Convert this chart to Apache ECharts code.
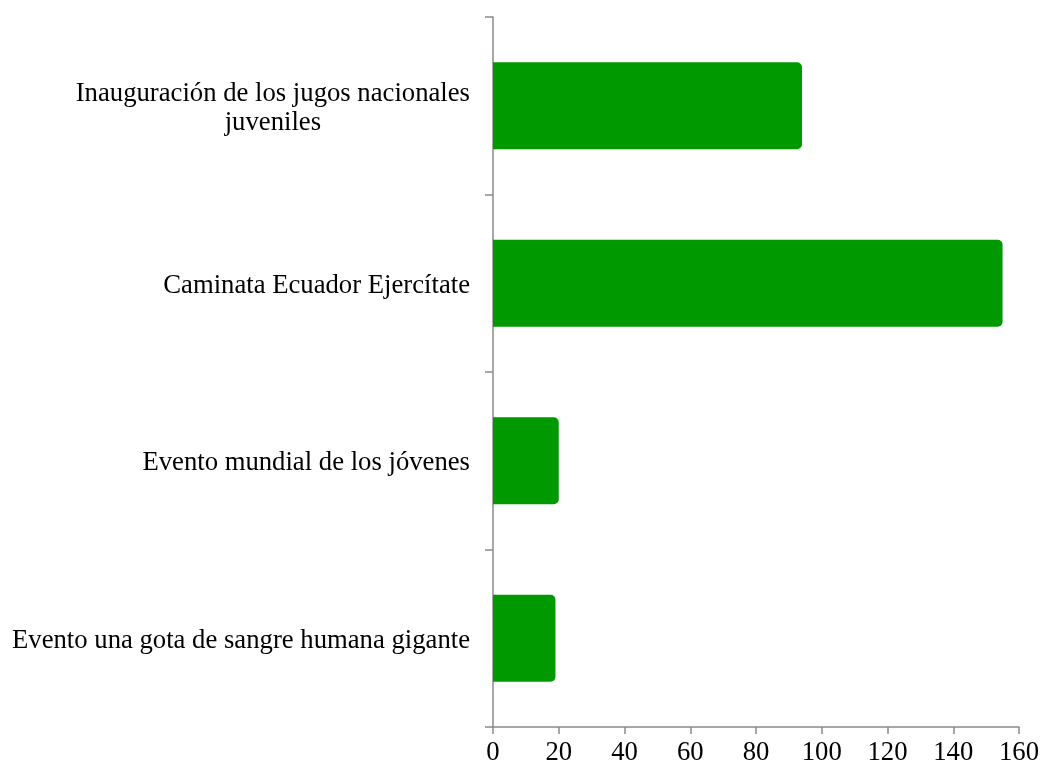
<!DOCTYPE html>
<html>
<head>
<meta charset="utf-8">
<script src="https://cdn.jsdelivr.net/npm/echarts@6/dist/echarts.min.js"></script>
<style>
html,body{margin:0;padding:0;background:#fff;}
#chart{width:1044px;height:769px;}
</style>
</head>
<body>
<div id="chart"></div>
<script>
const categories = [
  'Inauguración de los jugos nacionales\njuveniles',
  'Caminata Ecuador Ejercítate',
  'Evento mundial de los jóvenes',
  'Evento una gota de sangre humana gigante'
];
const values = [94, 155, 20, 19];
const xTicks = { min: 0, max: 160, interval: 20 };

const chart = echarts.init(document.getElementById('chart'));
const axisColor = '#8a8a8a';
const font = '"Liberation Serif", "Times New Roman", serif';
const fs = 26.7;
chart.setOption({
  animation: false,
  grid: { left: 493, right: 25, top: 17, bottom: 42, containLabel: false },
  xAxis: {
    type: 'value',
    min: xTicks.min, max: xTicks.max, interval: xTicks.interval,
    splitLine: { show: false },
    axisLine: { show: true, lineStyle: { color: axisColor, width: 1.5 } },
    axisTick: { show: true, length: 7, lineStyle: { color: axisColor, width: 1.5 } },
    axisLabel: { color: '#000', fontFamily: font, fontSize: fs, margin: 12 }
  },
  yAxis: {
    type: 'category',
    inverse: true,
    data: categories,
    axisLine: { show: true, lineStyle: { color: axisColor, width: 1.5 } },
    axisTick: { show: true, length: 8, lineStyle: { color: axisColor, width: 1.5 } },
    axisLabel: {
      color: '#000', fontFamily: font, fontSize: fs, margin: 23, lineHeight: 29,
      padding: [5, 0, 0, 0],
      formatter: v => v.split('\n').map(l => '{c|' + l + '}').join('\n'),
      rich: { c: { align: 'center', fontFamily: font, fontSize: fs, lineHeight: 29, color: '#000' } }
    }
  },
  series: [{
    type: 'bar',
    data: values,
    barCategoryGap: '51%',
    itemStyle: { color: '#009900', borderRadius: [0, 5, 5, 0] }
  }]
});
</script>
</body>
</html>
